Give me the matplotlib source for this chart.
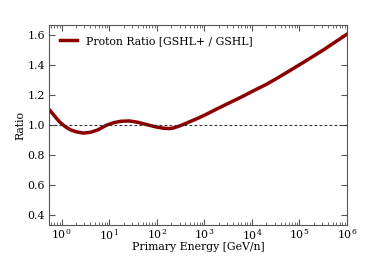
import matplotlib
matplotlib.use("Agg")
import matplotlib.pyplot as plt

log_energy = [-0.27, -0.15, -0.05, 0.03, 0.1, 0.2, 0.3, 0.45, 0.6, 0.75, 0.85, 0.95, 1.1, 1.25, 1.43, 1.6, 1.82, 2.0, 2.15, 2.27, 2.35, 2.49, 2.6, 2.7, 2.85, 3.0, 3.25, 3.54, 3.8, 4.0, 4.31, 4.6, 5.08, 5.5, 6.0]
ratio = [1.105, 1.06, 1.022, 1.0, 0.983, 0.966, 0.955, 0.946, 0.951, 0.966, 0.983, 1.0, 1.016, 1.025, 1.027, 1.018, 1.0, 0.986, 0.978, 0.976, 0.980, 0.995, 1.009, 1.023, 1.043, 1.065, 1.105, 1.150, 1.19, 1.223, 1.272, 1.325, 1.417, 1.50, 1.606]
energy = [10 ** v for v in log_energy]

plt.rcParams['font.family'] = 'DejaVu Serif'
plt.rcParams['mathtext.fontset'] = 'dejavuserif'

fig = plt.figure(figsize=(3.86, 2.58), dpi=100)
ax = fig.add_axes([49/386, 1 - 225/258, (347-49)/386, (225-25)/258])
ax.plot(energy, ratio, color='#8b0000', lw=2.5, label='Proton Ratio [GSHL+ / GSHL]')
ax.axhline(1.0, color='#333333', ls='--', lw=0.8, dashes=(2.5, 2))
ax.set_xscale('log')
ax.set_xlim(0.54, 1e6)
ax.set_ylim(0.333, 1.667)
ax.set_yticks([0.4, 0.6, 0.8, 1.0, 1.2, 1.4, 1.6])
ax.set_xticks([1, 10, 100, 1e3, 1e4, 1e5, 1e6])
ax.tick_params(which='both', direction='in', top=True, right=True, labelsize=7.9, color='#555555')
ax.tick_params(which='major', length=4)
ax.tick_params(axis='x', which='major', pad=1.5)
ax.tick_params(axis='y', which='major', pad=3)
ax.tick_params(which='minor', length=2)
for s in ax.spines.values():
    s.set_color('#555555')
    s.set_linewidth(0.8)
ax.set_xlabel('Primary Energy [GeV/n]', fontsize=7.8, labelpad=0)
ax.set_ylabel('Ratio', fontsize=7.8, labelpad=1)
ax.legend(loc='upper left', frameon=False, fontsize=7.8, handlelength=1.6, borderaxespad=0.6)
fig.savefig('out.png', dpi=100)
